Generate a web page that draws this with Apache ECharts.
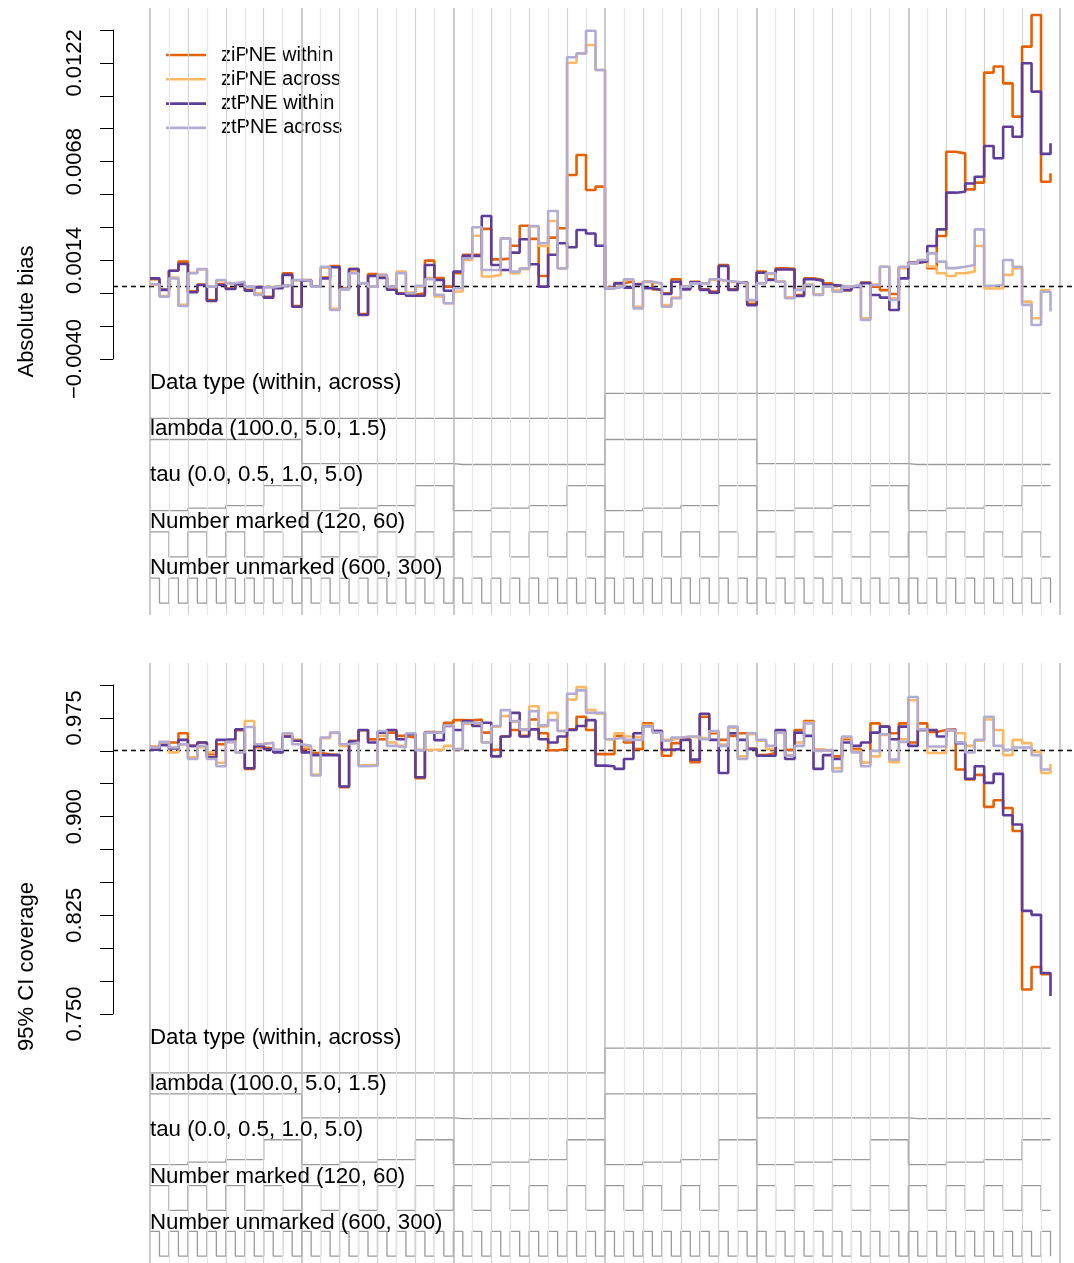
<!DOCTYPE html>
<html><head><meta charset="utf-8">
<script src="https://cdn.jsdelivr.net/npm/echarts@6/dist/echarts.min.js"></script>
<style>html,body{margin:0;padding:0;background:#fff}#c{width:1074px;height:1263px}</style>
</head><body><div id="c"></div>
<script>
// ---- design factors (nested loop order: outermost first) ----
const dataTypes = ['within', 'across'];
const lambdaLevels = [100.0, 5.0, 1.5];
const tauLevels = [0.0, 0.5, 1.0, 5.0];
const markedLevels = [120, 60];
const unmarkedLevels = [600, 300];
const designLabels = ['Data type (within, across)', 'lambda (100.0, 5.0, 1.5)', 'tau (0.0, 0.5, 1.0, 5.0)', 'Number marked (120, 60)', 'Number unmarked (600, 300)'];

const seriesNames = ['ziPNE within', 'ziPNE across', 'ztPNE within', 'ztPNE across'];
const seriesColors = ['#e66101', '#fdb863', '#5e3c99', '#b2abd2'];

// ---- absolute bias (96 scenarios) ----
const biasZiWithin = [0.00036,-0.00020,0.00083,0.00133,-0.00030,0.00008,-0.00077,0.00010,-0.00015,0.00009,-0.00022,-0.00006,-0.00060,-0.00010,0.00069,-0.00110,0.00032,-0.00002,0.00045,0.00109,-0.00015,0.00092,-0.00154,0.00065,
0.00050,-0.00004,-0.00040,-0.00049,-0.00040,0.00138,0.00043,-0.00004,0.00070,0.00170,0.00170,0.00312,0.00145,0.00149,0.00220,0.00329,0.00257,0.00054,0.00264,0.00315,0.00607,0.00716,0.00525,0.00543,
-0.00010,0.00016,0.00023,0.00010,0.00023,-0.00020,-0.00040,0.00036,-0.00015,0.00023,-0.00018,-0.00031,0.00114,-0.00018,0.00020,-0.00093,0.00078,0.00036,0.00096,0.00094,-0.00050,0.00041,0.00032,0.00014,
0.00001,-0.00023,-0.00004,0.00018,-0.00004,-0.00023,-0.00044,0.00102,0.00127,0.00133,0.00097,0.00273,0.00734,0.00725,0.00528,0.00565,0.01167,0.01200,0.01108,0.00926,0.01309,0.01482,0.00570,0.00616];
const biasZiAcross = [0.00005,-0.00055,0.00045,-0.00104,0.00072,0.00090,-0.00002,0.00030,0.00012,0.00021,-0.00006,-0.00041,-0.00006,0.00002,0.00005,0.00030,0.00027,-0.00002,0.00100,-0.00126,-0.00017,0.00082,0.00012,-0.00002,
0.00060,-0.00010,0.00078,-0.00036,-0.00004,0.00043,-0.00058,-0.00095,-0.00031,0.00142,0.00274,0.00051,0.00060,0.00260,0.00070,0.00091,0.00325,0.00218,0.00355,0.00096,0.01221,0.01272,0.01318,0.01181,
-0.00011,-0.00002,0.00034,-0.00114,0.00020,0.00012,-0.00105,-0.00064,-0.00002,0.00016,0.00012,0.00032,0.00025,0.00020,0.00012,-0.00086,0.00016,0.00066,0.00025,-0.00063,-0.00020,0.00007,-0.00046,-0.00002,
-0.00023,-0.00004,0.00005,-0.00177,0.00007,0.00105,-0.00068,0.00097,0.00123,0.00140,0.00105,0.00069,0.00054,0.00069,0.00078,0.00218,-0.00014,-0.00014,0.00060,0.00097,-0.00086,-0.00177,-0.00023,-0.00023];
const biasZtWithin = [0.00041,-0.00022,0.00083,0.00120,-0.00035,0.00005,-0.00083,0.00005,-0.00017,0.00009,-0.00026,-0.00008,-0.00064,-0.00013,0.00060,-0.00114,0.00029,-0.00004,0.00041,0.00102,-0.00017,0.00092,-0.00159,0.00054,
0.00043,-0.00021,-0.00043,-0.00054,-0.00054,0.00114,0.00032,-0.00027,0.00078,0.00164,0.00164,0.00382,0.00114,0.00087,0.00182,0.00255,0.00118,-0.00004,0.00170,0.00233,0.00211,0.00306,0.00287,0.00220,
-0.00013,0.00014,-0.00010,0.00009,-0.00013,-0.00022,-0.00044,0.00023,-0.00019,0.00020,-0.00022,-0.00037,0.00109,-0.00022,0.00018,-0.00105,0.00072,0.00032,0.00090,0.00090,-0.00055,0.00036,0.00029,0.00005,
0.00001,-0.00023,-0.00006,0.00015,-0.00050,-0.00064,-0.00132,0.00041,0.00127,0.00133,0.00218,0.00309,0.00510,0.00515,0.00560,0.00597,0.00765,0.00698,0.00871,0.00816,0.01218,0.01063,0.00722,0.00780];
const biasZtAcross = [0.00009,-0.00059,0.00041,-0.00110,0.00069,0.00092,-0.00004,0.00032,0.00014,0.00023,-0.00004,-0.00050,-0.00008,0.00000,0.00005,0.00032,0.00029,-0.00004,0.00105,-0.00132,-0.00019,0.00069,0.00014,-0.00004,
0.00060,-0.00004,0.00070,-0.00040,0.00001,0.00036,-0.00049,-0.00095,-0.00013,0.00151,0.00321,0.00087,0.00087,0.00260,0.00078,0.00096,0.00328,0.00233,0.00410,0.00096,0.01251,0.01272,0.01396,0.01181,
-0.00013,-0.00004,0.00036,-0.00123,0.00023,0.00014,-0.00114,-0.00068,-0.00004,0.00014,0.00014,0.00036,0.00027,0.00023,0.00014,-0.00077,0.00014,0.00069,0.00023,-0.00068,-0.00022,0.00005,-0.00050,-0.00004,
-0.00032,-0.00004,0.00005,-0.00186,0.00005,0.00105,-0.00077,0.00105,0.00123,0.00142,0.00178,0.00133,0.00097,0.00105,0.00114,0.00309,0.00001,0.00005,0.00142,0.00105,-0.00104,-0.00214,-0.00032,-0.00140];

// ---- 95% CI coverage (96 scenarios) ----
const covZiWithin = [0.9523,0.9540,0.9556,0.9627,0.9530,0.9556,0.9467,0.9543,0.9561,0.9650,0.9353,0.9520,0.9510,0.9485,0.9602,0.9575,0.9505,0.9475,0.9465,0.9460,0.9213,0.9570,0.9650,0.9580,
0.9581,0.9632,0.9607,0.9594,0.9282,0.9637,0.9632,0.9708,0.9728,0.9726,0.9733,0.9632,0.9500,0.9602,0.9652,0.9607,0.9733,0.9627,0.9497,0.9505,0.9657,0.9754,0.9652,0.9467,
0.9467,0.9607,0.9556,0.9505,0.9703,0.9645,0.9454,0.9551,0.9581,0.9404,0.9754,0.9627,0.9576,0.9607,0.9627,0.9510,0.9460,0.9475,0.9637,0.9500,0.9652,0.9721,0.9500,0.9492,
0.9449,0.9581,0.9505,0.9404,0.9703,0.9678,0.9627,0.9703,0.9556,0.9703,0.9637,0.9652,0.9657,0.9348,0.9272,0.9307,0.9061,0.9112,0.9053,0.8876,0.7657,0.7830,0.7774,0.7774];
const covZiAcross = [0.9515,0.9550,0.9480,0.9540,0.9442,0.9520,0.9480,0.9400,0.9569,0.9480,0.9721,0.9530,0.9550,0.9500,0.9620,0.9576,0.9520,0.9310,0.9590,0.9630,0.9530,0.9550,0.9380,0.9385,
0.9607,0.9556,0.9530,0.9620,0.9500,0.9500,0.9500,0.9530,0.9505,0.9700,0.9705,0.9556,0.9678,0.9759,0.9715,0.9650,0.9835,0.9680,0.9784,0.9645,0.9886,0.9982,0.9805,0.9779,
0.9581,0.9627,0.9602,0.9594,0.9690,0.9640,0.9576,0.9590,0.9600,0.9595,0.9585,0.9640,0.9540,0.9670,0.9449,0.9620,0.9570,0.9505,0.9630,0.9460,0.9556,0.9710,0.9495,0.9495,
0.9358,0.9595,0.9490,0.9404,0.9449,0.9615,0.9404,0.9581,0.9881,0.9650,0.9475,0.9475,0.9650,0.9627,0.9530,0.9570,0.9733,0.9652,0.9459,0.9576,0.9551,0.9485,0.9322,0.9391];
const covZtWithin = [0.9500,0.9536,0.9510,0.9576,0.9530,0.9556,0.9442,0.9576,0.9581,0.9657,0.9358,0.9530,0.9505,0.9480,0.9602,0.9569,0.9480,0.9459,0.9459,0.9459,0.9218,0.9563,0.9652,0.9556,
0.9632,0.9652,0.9581,0.9619,0.9289,0.9632,0.9574,0.9683,0.9652,0.9721,0.9683,0.9708,0.9449,0.9602,0.9784,0.9602,0.9657,0.9581,0.9556,0.9602,0.9652,0.9683,0.9728,0.9378,
0.9373,0.9353,0.9429,0.9627,0.9678,0.9645,0.9500,0.9505,0.9576,0.9424,0.9777,0.9576,0.9322,0.9627,0.9576,0.9505,0.9454,0.9454,0.9652,0.9429,0.9632,0.9607,0.9353,0.9459,
0.9429,0.9556,0.9530,0.9556,0.9632,0.9678,0.9581,0.9678,0.9530,0.9652,0.9652,0.9602,0.9652,0.9551,0.9277,0.9373,0.9246,0.9315,0.8997,0.8926,0.8262,0.8231,0.7784,0.7607];
const covZtAcross = [0.9518,0.9561,0.9518,0.9543,0.9429,0.9530,0.9429,0.9373,0.9561,0.9480,0.9675,0.9543,0.9556,0.9500,0.9627,0.9543,0.9530,0.9302,0.9594,0.9632,0.9543,0.9556,0.9373,0.9378,
0.9645,0.9530,0.9518,0.9627,0.9497,0.9632,0.9632,0.9688,0.9505,0.9708,0.9708,0.9556,0.9683,0.9805,0.9721,0.9657,0.9797,0.9688,0.9728,0.9645,0.9931,0.9957,0.9784,0.9784,
0.9581,0.9594,0.9576,0.9576,0.9678,0.9632,0.9569,0.9594,0.9602,0.9602,0.9581,0.9645,0.9530,0.9678,0.9429,0.9627,0.9576,0.9530,0.9632,0.9454,0.9530,0.9703,0.9492,0.9500,
0.9333,0.9602,0.9480,0.9373,0.9492,0.9619,0.9424,0.9561,0.9906,0.9657,0.9525,0.9525,0.9652,0.9556,0.9480,0.9576,0.9754,0.9530,0.9500,0.9518,0.9518,0.9459,0.9348,0.9348];

// ---- y axes ----
const biasTicks = ['\u22120.0040', '', '', '0.0014', '', '', '0.0068', '', '', '0.0122', ''];
const biasAxisRange = [-0.0040, 0.0140];
const biasReference = 0;
const covTicks = ['0.750', '', '', '0.825', '', '', '0.900', '', '', '0.975', ''];
const covAxisRange = [0.750, 1.000];
const covReference = 0.95;

// ================= layout / drawing =================
const FONT = '"Liberation Sans", Arial, Helvetica, sans-serif';
const scen = [];
dataTypes.forEach((d, di) => lambdaLevels.forEach(l => tauLevels.forEach(t => markedLevels.forEach(m => unmarkedLevels.forEach(u => scen.push([di, l, t, m, u]))))));
const N = scen.length;
const factorLevels = [[0, 1], lambdaLevels, tauLevels, markedLevels, unmarkedLevels];

const X0 = 150, PXU = 9.479;            // x of scenario 1, px per scenario
const xMin = 1, xMax = N + 1;
const gridLeft = X0;
const gridWidth = (xMax - xMin) * PXU;

const panels = [
  { off: 0, title: 'Absolute bias', ticks: biasTicks, range: biasAxisRange, ref: biasReference, vals: [biasZiWithin, biasZiAcross, biasZtWithin, biasZtAcross] },
  { off: 655, title: '95% CI coverage', ticks: covTicks, range: covAxisRange, ref: covReference, vals: [covZiWithin, covZiAcross, covZtWithin, covZtAcross] }
];

const grids = [], xAxes = [], yAxes = [], series = [], graphics = [];
const AX_TOP = 30, AX_BOT = 359, REG_TOP = 8, REG_BOT = 615;

panels.forEach((p, pi) => {
  const ppu = (AX_BOT - AX_TOP) / (p.range[1] - p.range[0]);
  const dMax = p.range[1] + (AX_TOP - REG_TOP) / ppu;
  const dMin = p.range[0] - (REG_BOT - AX_BOT) / ppu;
  const gD = grids.length;
  // data grid
  grids.push({ left: gridLeft, top: p.off + REG_TOP, width: gridWidth, height: REG_BOT - REG_TOP });
  xAxes.push({ gridIndex: gD, type: 'value', min: xMin, max: xMax, show: false });
  yAxes.push({ gridIndex: gD, type: 'value', min: dMin, max: dMax, show: false });
  // axis grid
  const gA = grids.length;
  grids.push({ left: 113, top: p.off + AX_TOP, width: 1, height: AX_BOT - AX_TOP });
  xAxes.push({ gridIndex: gA, type: 'value', min: 0, max: 1, show: false });
  yAxes.push({ gridIndex: gA, type: 'value', min: 0, max: p.ticks.length - 1, interval: 1,
    axisLine: { show: true, lineStyle: { color: '#000', width: 1 } },
    axisTick: { show: true, length: 13, lineStyle: { color: '#000', width: 1 } },
    splitLine: { show: false },
    axisLabel: { show: true, interval: 0, rotate: 90, margin: 27, fontSize: 22, fontFamily: FONT, color: '#000',
      formatter: (v) => p.ticks[Math.round(v)] || '' } });
  series.push({ type: 'line', xAxisIndex: gA, yAxisIndex: gA, data: [], silent: true });
  // design grid
  const gS = grids.length;
  grids.push({ left: gridLeft, top: p.off + 370, width: gridWidth, height: 240 });
  xAxes.push({ gridIndex: gS, type: 'value', min: xMin, max: xMax, show: false });
  yAxes.push({ gridIndex: gS, type: 'value', min: 0, max: 240, inverse: true, show: false });
  // reference-line grid (full plot width, same vertical scale as data)
  const gR = grids.length;
  grids.push({ left: 113, top: p.off + REG_TOP, width: 961, height: REG_BOT - REG_TOP });
  xAxes.push({ gridIndex: gR, type: 'value', min: 0, max: 1, show: false });
  yAxes.push({ gridIndex: gR, type: 'value', min: dMin, max: dMax, show: false });

  // vertical guide lines
  const vl = [];
  for (let x = 1; x <= N + 1; x += 2) {
    const idx = x - 1;
    let st;
    if (idx % 16 === 0) st = { color: '#b8b8b8', width: 1.5, type: 'solid' };
    else if (idx % 4 === 0) st = { color: '#d2d2d2', width: 1.2, type: 'solid' };
    else st = { color: '#e6e6e6', width: 1.2, type: 'solid' };
    vl.push({ xAxis: x, lineStyle: st });
  }
  series.push({ type: 'line', xAxisIndex: gD, yAxisIndex: gD, data: [], z: 1, silent: true,
    markLine: { silent: true, symbol: ['none', 'none'], label: { show: false }, animation: false, data: vl } });
  // reference dashed line
  series.push({ type: 'line', xAxisIndex: gR, yAxisIndex: gR, data: [], z: 3, silent: true,
    markLine: { silent: true, symbol: ['none', 'none'], label: { show: false }, animation: false,
      lineStyle: { color: '#000', width: 1.3, type: [5, 4] }, data: [{ yAxis: p.ref }] } });

  // design step lines + labels
  factorLevels.forEach((lv, k) => {
    const lo = Math.min(...lv), hi = Math.max(...lv);
    const bandTop = 23.3 + 46.2 * k;
    const pts = scen.map((s, i) => [i + 1, bandTop + 25 * (1 - (s[k] - lo) / (hi - lo))]);
    series.push({ type: 'line', xAxisIndex: gS, yAxisIndex: gS, step: 'end', symbol: 'none', silent: true, z: 2,
      data: pts, lineStyle: { color: '#9a9a9a', width: 1.3 } });
    graphics.push({ type: 'text', x: X0, y: p.off + 370 + bandTop - 10.5, z: 10,
      style: { text: designLabels[k], fontSize: 22.3, fontFamily: FONT, fill: '#000', align: 'left', verticalAlign: 'middle' } });
  });

  // data series
  p.vals.forEach((arr, si) => {
    series.push({ type: 'line', name: seriesNames[si], xAxisIndex: gD, yAxisIndex: gD, step: 'end', symbol: 'none',
      z: 5, data: arr.map((v, i) => [i + 1, v]),
      lineStyle: { color: seriesColors[si], width: 2.6 }, itemStyle: { color: seriesColors[si] },
      emphasis: { disabled: true } });
  });

  graphics.push({ type: 'text', x: 27, y: p.off + (REG_TOP + REG_BOT) / 2, rotation: Math.PI / 2,
    style: { text: p.title, fontSize: 22, fontFamily: FONT, fill: '#000', align: 'center', verticalAlign: 'middle' } });
});

const chart = echarts.init(document.getElementById('c'), null, { renderer: 'canvas' });
chart.setOption({
  backgroundColor: '#fff',
  animation: false,
  grid: grids, xAxis: xAxes, yAxis: yAxes, series,
  legend: { data: seriesNames, orient: 'vertical', left: 166, top: 45, padding: 0, icon: 'rect',
    itemWidth: 40, itemHeight: 2.6, itemGap: 4.3, selectedMode: false,
    textStyle: { fontSize: 20, fontFamily: FONT, color: '#000', lineHeight: 20, padding: [0, 0, 0, 10] } },
  graphic: graphics
});
</script></body></html>
